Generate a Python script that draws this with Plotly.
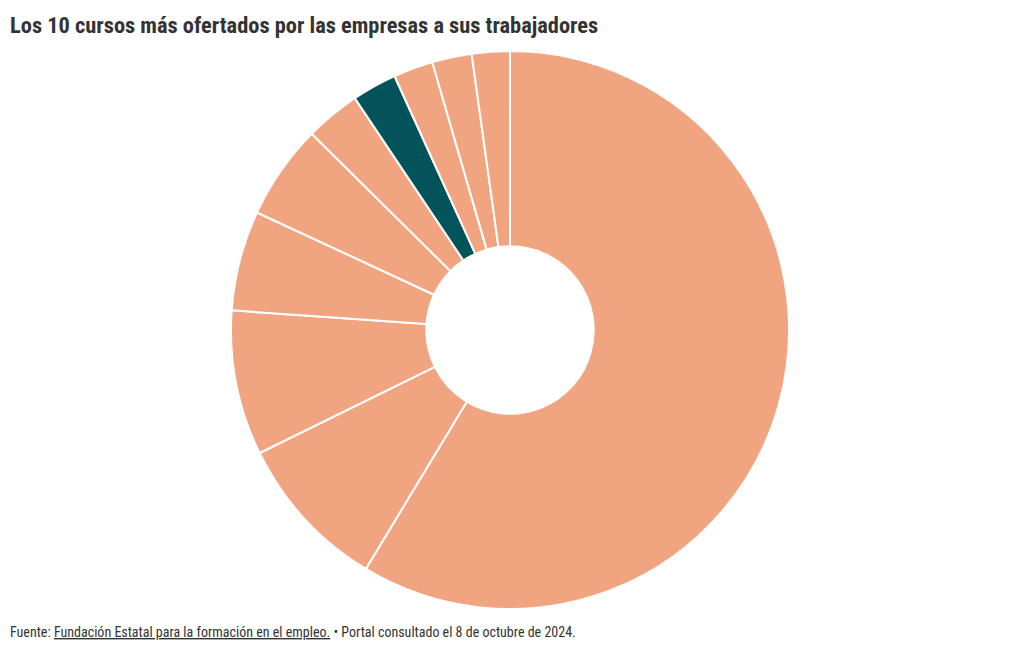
import plotly.graph_objects as go

cursos = [
    "Prevención de riesgos laborales",
    "Inglés",
    "Ofimática",
    "Atención al cliente",
    "Manipulación de alimentos",
    "Igualdad de oportunidades",
    "Protección de datos",
    "Primeros auxilios",
    "Liderazgo y gestión de equipos",
    "Comunicación eficaz",
]
valores = [58.7, 9.1, 8.4, 5.8, 5.5, 3.2, 2.6, 2.3, 2.3, 2.2]
destacado = "Protección de datos"

SALMON = "#F1A480"
TEAL = "#02545A"
colores = [TEAL if c == destacado else SALMON for c in cursos]

FONT = "Roboto Condensed, Liberation Sans Narrow, DejaVu Sans Condensed, Roboto, sans-serif"

fig = go.Figure(go.Pie(
    labels=cursos,
    values=valores,
    hole=0.3,
    sort=False,
    direction="clockwise",
    rotation=0,
    textinfo="none",
    marker=dict(colors=colores, line=dict(color="white", width=2)),
    hovertemplate="%{label}: %{value}%<extra></extra>",
))

fig.update_layout(
    width=1020, height=650,
    margin=dict(l=0, r=16, t=43, b=49),
    paper_bgcolor="white",
    showlegend=False,
    font=dict(family=FONT, color="#333333"),
    title=dict(
        text="<b>Los 10 cursos más ofertados por las empresas a sus trabajadores</b>",
        x=0.002, xanchor="left", y=0.974, yanchor="middle",
        font=dict(family=FONT, size=22.4, color="#333333"),
    ),
    annotations=[dict(
        text=("Fuente: <span style='text-decoration:underline'>Fundación Estatal para la formación en el empleo.</span>"
              " • Portal consultado el 8 de octubre de 2024."),
        xref="paper", yref="paper", x=0.0, xanchor="left",
        y=-0.0412, yanchor="middle", showarrow=False,
        font=dict(family=FONT, size=14, color="#333333"),
    )],
)

fig.write_html("out.html")
